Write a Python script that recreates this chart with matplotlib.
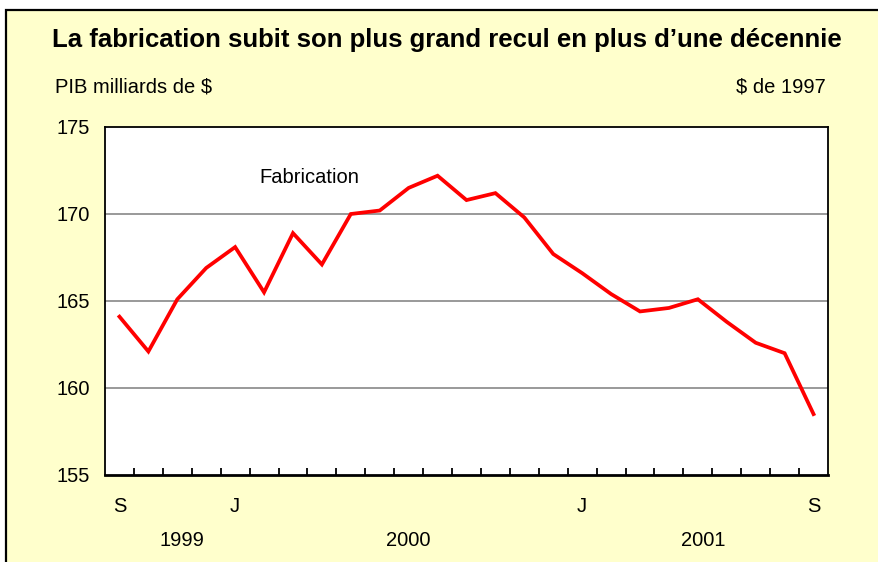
import matplotlib.pyplot as plt
import matplotlib.transforms as mtransforms
from matplotlib.patches import Rectangle
import numpy as np

plt.rcParams["font.family"] = ["Liberation Sans", "DejaVu Sans"]

# Sep 1999 .. Sep 2001, monthly GDP, manufacturing (billions of 1997 $)
months = ["S", "O", "N", "D", "J", "F", "M", "A", "M", "J", "J", "A",
          "S", "O", "N", "D", "J", "F", "M", "A", "M", "J", "J", "A", "S"]
fabrication = [164.1, 162.1, 165.1, 166.9, 168.1, 165.5, 168.9, 167.1, 170.0,
               170.2, 171.5, 172.2, 170.8, 171.2, 169.8, 167.7, 166.6, 165.4,
               164.4, 164.6, 165.1, 163.8, 162.6, 162.0, 158.5]
shown_months = {0: "S", 4: "J", 16: "J", 24: "S"}
years = ["1999", "2000", "2001"]
year_pos = [2.15, 10.0, 20.2]
yticks = [155, 160, 165, 170, 175]

W, H = 879, 562
fig = plt.figure(figsize=(W / 100, H / 100), dpi=100)
fig.patch.set_facecolor("white")

# yellow panel with black border on top and left
fig.patches.append(Rectangle((6 / W, -0.01), 1.0, 1 - 10 / H + 0.01,
                             transform=fig.transFigure, facecolor="#FFFFCC",
                             edgecolor="black", linewidth=1.6, zorder=-1))

ax = fig.add_axes([105 / W, 1 - 475 / H, 723 / W, 348 / H])
ax.set_zorder(2)
ax.set_facecolor("white")

x = np.arange(len(fabrication))
ax.plot(x, fabrication, color="#FF0000", linewidth=2.7, solid_joinstyle="miter", zorder=3)

ax.set_xlim(-0.5, len(fabrication) - 0.5)
ax.set_ylim(155, 175)
ax.set_yticks(yticks)
ax.set_yticklabels([str(v) for v in yticks], fontsize=14.5)
ax.tick_params(axis="y", length=0, pad=11)
for v in yticks[1:-1]:
    ax.axhline(v, color="#999999", linewidth=1.4, zorder=1)

# category boundaries as small inward ticks
ax.set_xticks(np.arange(0.5, len(fabrication) - 1, 1.0), minor=True)
ax.tick_params(axis="x", which="minor", direction="in", length=5, width=1.3, color="black")
ax.set_xticks(list(shown_months.keys()))
ax.set_xticklabels(list(shown_months.values()), fontsize=14.5)
ax.tick_params(axis="x", which="major", length=0, pad=16)

trans = mtransforms.blended_transform_factory(ax.transData, fig.transFigure)
for yr, xp in zip(years, year_pos):
    ax.text(xp, 1 - 541 / H, yr, transform=trans, ha="center", va="center", fontsize=14.5)

for side in ["top", "right", "left"]:
    ax.spines[side].set_linewidth(1.3)
ax.spines["bottom"].set_linewidth(2.0)

ax.text(6.56, 172.1, "Fabrication", fontsize=14.5, ha="center", va="center")

fig.text(447 / W, 1 - 40 / H,
         "La fabrication subit son plus grand recul en plus d\u2019une d\u00e9cennie",
         fontsize=18.5, fontweight="bold", ha="center", va="center")
fig.text(55 / W, 1 - 87 / H, "PIB milliards de $", fontsize=14.5, ha="left", va="center")
fig.text(826 / W, 1 - 87 / H, "$ de 1997", fontsize=14.5, ha="right", va="center")

fig.savefig("out.png", dpi=100, facecolor=fig.get_facecolor())
